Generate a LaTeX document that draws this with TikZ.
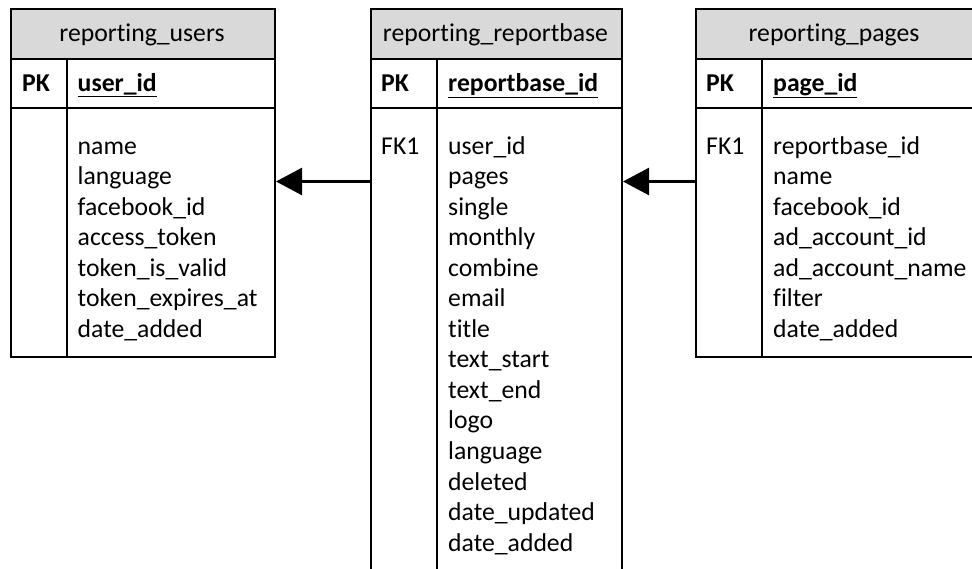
\documentclass[tikz,border=0pt]{standalone}
\usepackage{fontspec}
\setmainfont{Carlito}[RawFeature={-liga;-dlig;-clig}]
\usetikzlibrary{arrows.meta}
\definecolor{hdrgray}{RGB}{217,217,217}
\begin{document}
\begin{tikzpicture}[x=1pt,y=-1pt,
  tbl/.style={draw, line width=2pt, inner sep=0pt, anchor=north west},
  hdrfill/.style={fill=hdrgray},
  sep/.style={line width=1.3pt},
  txt/.style={anchor=base west, inner sep=0pt, font=\fontsize{25.7}{30}\selectfont},
  ttl/.style={anchor=base, inner sep=0pt, font=\fontsize{25.7}{30}\selectfont},
  fk/.style={line width=2.5pt, -{Triangle[length=26pt,width=27pt]}}]
\useasboundingbox (0,0) rectangle (972,568);
\clip (0,0) rectangle (972,568);
% header fills
\fill[hdrfill] (10,7.5) rectangle (274,59);
\fill[hdrfill] (370,7.5) rectangle (621,59);
\fill[hdrfill] (695,7.5) rectangle (985,59);
% tables
\node[tbl, minimum width=264pt, minimum height=348.5pt] (users) at (10,7.5) {};
\node[tbl, minimum width=251pt, minimum height=580pt] (rb) at (370,7.5) {};
\node[tbl, minimum width=300pt, minimum height=348.5pt] (pages) at (695,7.5) {};
% separators
\draw[sep] (10,59) -- (274,59) (10,108) -- (274,108) (67,59) -- (67,356);
\draw[sep] (370,59) -- (621,59) (370,108) -- (621,108) (437,59) -- (437,590);
\draw[sep] (695,59) -- (985,59) (695,108) -- (985,108) (762,59) -- (762,356);
% titles
\node[ttl] (ut) at (142,41.7) {reporting\_users};
\node[ttl] (rt) at (495.5,41.7) {reporting\_reportbase};
\node[ttl] (pt) at (834,41.7) {reporting\_pages};
% PK rows
\node[txt] (upk) at (22,91.7) {\textbf{PK}};
\node[txt] (uid) at (77.5,91.7) {\textbf{\underline{user\_id}}};
\node[txt] (rpk) at (381,91.7) {\textbf{PK}};
\node[txt] (rid) at (448,91.7) {\textbf{\underline{reportbase\_id}}};
\node[txt] (ppk) at (706,91.7) {\textbf{PK}};
\node[txt] (pid) at (773,91.7) {\textbf{\underline{page\_id}}};
% FK labels
\node[txt] (rfk) at (381,154) {FK1};
\node[txt] (pfk) at (706,154) {FK1};
% fields
\foreach \t [count=\i] in {name,language,facebook\_id,access\_token,token\_is\_valid,token\_expires\_at,date\_added}
  \node[txt] (uf\i) at (77.5,{154+(\i-1)*30.55}) {\t};
\foreach \t [count=\i] in {user\_id,pages,single,monthly,combine,email,title,text\_start,text\_end,logo,language,deleted,date\_updated,date\_added}
  \node[txt] (rf\i) at (448,{154+(\i-1)*30.55}) {\t};
\foreach \t [count=\i] in {reportbase\_id,name,facebook\_id,ad\_account\_id,ad\_account\_name,filter,date\_added}
  \node[txt] (pf\i) at (773,{154+(\i-1)*30.55}) {\t};
% connectors
\draw[fk] (rb.west |- 0,181.5) -- (users.east |- 0,181.5);
\draw[fk] (pages.west |- 0,181.5) -- (rb.east |- 0,181.5);
\end{tikzpicture}
\end{document}
